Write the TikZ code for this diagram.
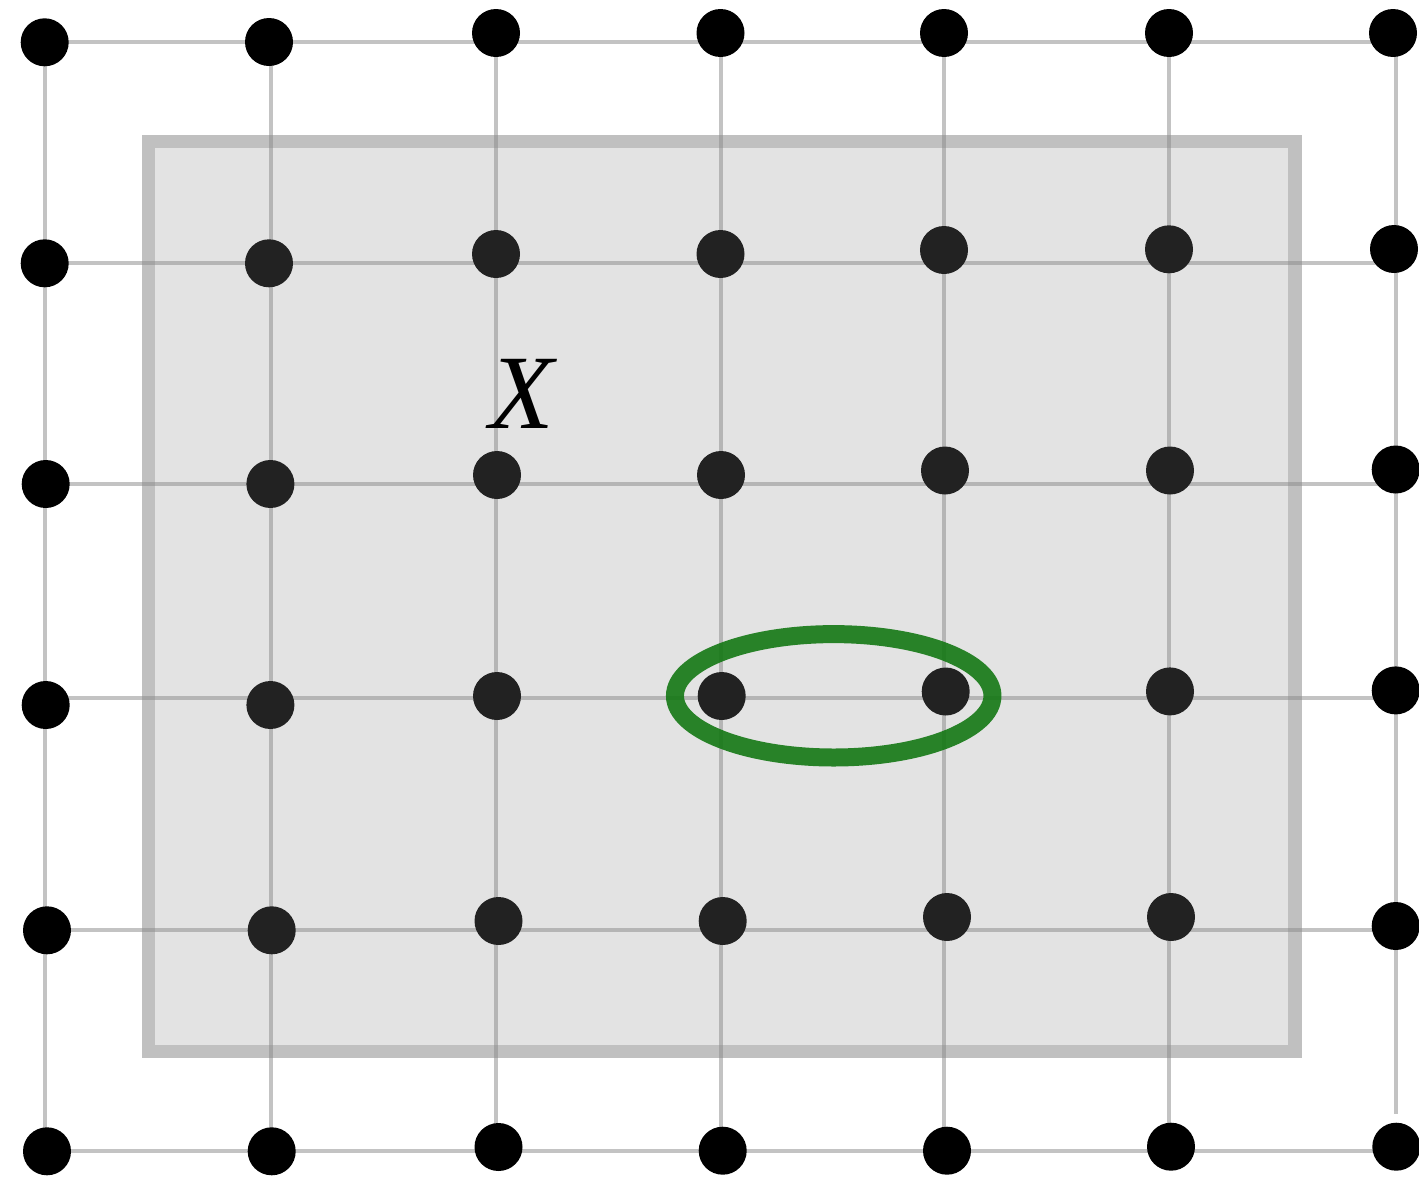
\documentclass[tikz,border=0pt]{standalone}
\usepackage{fontspec}
\newfontfamily\xfont{Liberation Serif}
\definecolor{gridgray}{RGB}{195,195,195}
\definecolor{boxgray}{RGB}{140,140,140}
\definecolor{ringgreen}{RGB}{20,120,20}
\begin{document}
\begin{tikzpicture}[x=1pt,y=-1pt,
  gridline/.style={draw=gridgray, line width=4.5pt},
  dot/.style={circle, fill=black, minimum size=48pt, inner sep=0pt, outer sep=0pt},
  boxfill/.style={fill=boxgray, fill opacity=0.243},
  boxborder/.style={draw=boxgray, draw opacity=0.548, line width=13.3pt, line join=miter},
  ring/.style={draw=ringgreen, draw opacity=0.9, line width=18pt},
  lbl/.style={inner sep=0pt, font={\xfont\itshape\fontsize{105.7pt}{110pt}\selectfont}}
]
\useasboundingbox (0,0) rectangle (1419,1181);
% grid coordinates
\foreach \c/\x in {0/45,1/271,2/496,3/721,4/944,5/1169,6/1396} {
  \foreach \r/\y in {0/42,1/263,2/484,3/698,4/930,5/1151} {
    \coordinate (g-\r-\c) at (\x,\y);
  }
}
\coordinate (g6end) at (1396,1114);
% grid lines
\foreach \r in {0,...,5} { \draw[gridline] (g-\r-0) -- (g-\r-6); }
\foreach \c in {0,...,5} { \draw[gridline] (g-0-\c) -- (g-5-\c); }
\draw[gridline] (g-0-6) -- (g6end);
% dots
\foreach \n/\x/\y in {
  0-0/44.7/42.3, 0-1/269/42, 0-2/496/33, 0-3/720.5/33, 0-4/944/33, 0-5/1169/33, 0-6/1393/33,
  1-0/44.7/263.3, 1-1/269/263.3, 1-2/496/254, 1-3/720.5/254, 1-4/944/250, 1-5/1169/249.3, 1-6/1394/249,
  2-0/45.7/484, 2-1/270.4/484, 2-2/497/475, 2-3/721/475, 2-4/945/470.5, 2-5/1170/470.5, 2-6/1395.7/469.5,
  3-0/45.7/705, 3-1/270.4/705, 3-2/497/696, 3-3/721.7/696, 3-4/945.7/691.5, 3-5/1170/691.4, 3-6/1395.7/690.4,
  4-0/47/930.3, 4-1/271.7/930.3, 4-2/498.5/921, 4-3/722.7/921, 4-4/947/917, 4-5/1171/917, 4-6/1395.7/926,
  5-0/47/1151.3, 5-1/271.7/1151.3, 5-2/498.5/1147, 5-3/722.7/1150.7, 5-4/947/1150.7, 5-5/1171/1146.7, 5-6/1396.3/1146.7} {
  \node[dot] (d\n) at (\x,\y) {};
}
% shaded region X
\fill[boxfill] (155,148) rectangle (1288.3,1045);
\draw[boxborder] (148.3,141.6) rectangle (1295,1051.7);
% green ellipse
\draw[ring] (833.7,695.8) ellipse [x radius=158.75pt, y radius=61.7pt];
% label
\node[lbl] (lblX) at (521.7,394.3) {X};
\end{tikzpicture}
\end{document}
